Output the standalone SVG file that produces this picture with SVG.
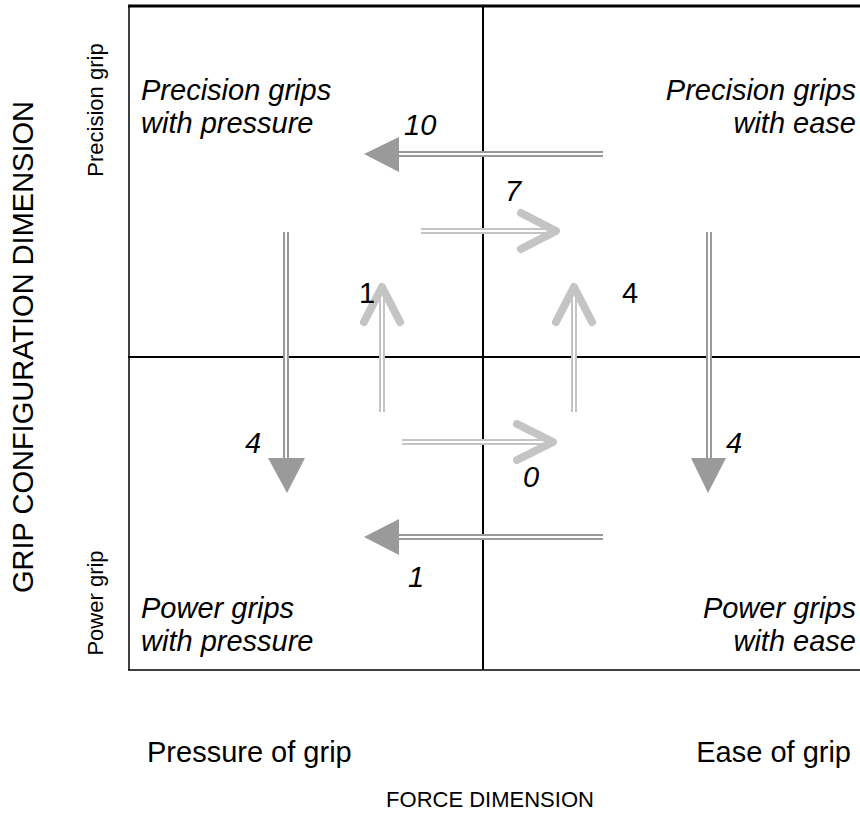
<svg xmlns="http://www.w3.org/2000/svg" width="860" height="835" viewBox="0 0 860 835">
<defs>
<style>
.t{font-family:"Liberation Sans",Arial,sans-serif;font-size:29px;fill:#000}
.s{font-size:22px}
.i{font-style:italic}
.box{stroke:#000;fill:none}
.dk{stroke:#9a9a9a;stroke-width:6;fill:none}
.lt{stroke:#c4c4c4;stroke-width:6;fill:none}
.gap{stroke:#fff;stroke-width:2;fill:none}
.chev{stroke:#c4c4c4;stroke-width:8;fill:none;stroke-linecap:round;stroke-linejoin:round}
.head{fill:#9a9a9a}
</style>
</defs>
<rect width="860" height="835" fill="#fff"/>
<g id="grid">
<line class="box" x1="128" y1="6" x2="860" y2="6" stroke-width="3"/>
<line class="box" x1="129" y1="6" x2="129" y2="670" stroke-width="1.5"/>
<line class="box" x1="128" y1="670" x2="860" y2="670" stroke-width="1.5"/>
<line class="box" x1="483" y1="6" x2="483" y2="670" stroke-width="2"/>
<line class="box" x1="128" y1="357" x2="860" y2="357" stroke-width="2"/>
</g>
<g id="q-tl"><text class="t i" x="141" y="100">Precision grips</text><text class="t i" x="141" y="133">with pressure</text></g>
<g id="q-tr"><text class="t i" x="856" y="100" text-anchor="end">Precision grips</text><text class="t i" x="856" y="133" text-anchor="end">with ease</text></g>
<g id="q-bl"><text class="t i" x="141" y="618">Power grips</text><text class="t i" x="141" y="651">with pressure</text></g>
<g id="q-br"><text class="t i" x="856" y="618" text-anchor="end">Power grips</text><text class="t i" x="856" y="651" text-anchor="end">with ease</text></g>
<g id="axes">
<text class="t" x="147" y="762">Pressure of grip</text>
<text class="t" x="851" y="762" text-anchor="end">Ease of grip</text>
<text class="t s" x="490" y="807" text-anchor="middle">FORCE DIMENSION</text>
<text class="t" transform="translate(33,347) rotate(-90)" text-anchor="middle">GRIP CONFIGURATION DIMENSION</text>
<text class="t s" transform="translate(103,110) rotate(-90)" text-anchor="middle">Precision grip</text>
<text class="t s" transform="translate(103,603) rotate(-90)" text-anchor="middle">Power grip</text>
</g>
<g id="connectors">
<g id="a10"><line class="dk" x1="603" y1="154" x2="398" y2="154"/><line class="gap" x1="603" y1="154" x2="398" y2="154"/><polygon class="head" points="364,154 399,137 399,172"/><text class="t i" x="404" y="135">10</text></g>
<g id="a7"><line class="lt" x1="421" y1="231" x2="552" y2="231"/><line class="gap" x1="421" y1="231" x2="552" y2="231"/><polyline class="chev" points="521,213 556,231 521,249"/><text class="t i" x="505" y="201">7</text></g>
<g id="a1up"><line class="lt" x1="382" y1="412" x2="382" y2="290"/><line class="gap" x1="382" y1="412" x2="382" y2="290"/><polyline class="chev" points="364,322 382,287 400,322"/><text class="t" x="359" y="303">1</text></g>
<g id="a4up"><line class="lt" x1="574" y1="412" x2="574" y2="290"/><line class="gap" x1="574" y1="412" x2="574" y2="290"/><polyline class="chev" points="556,322 574,287 592,322"/><text class="t" x="622" y="303">4</text></g>
<g id="a4l"><line class="dk" x1="286" y1="232" x2="286" y2="460"/><line class="gap" x1="286" y1="232" x2="286" y2="460"/><polygon class="head" points="287,493 268,458 305,458"/><text class="t i" x="245" y="453">4</text></g>
<g id="a4r"><line class="dk" x1="709" y1="232" x2="709" y2="460"/><line class="gap" x1="709" y1="232" x2="709" y2="460"/><polygon class="head" points="708,493 691,458 726,458"/><text class="t i" x="726" y="453">4</text></g>
<g id="a0"><line class="lt" x1="402" y1="442" x2="550" y2="442"/><line class="gap" x1="402" y1="442" x2="550" y2="442"/><polyline class="chev" points="517,424 553,442 517,460"/><text class="t i" x="523" y="487">0</text></g>
<g id="a1l"><line class="dk" x1="603" y1="537" x2="398" y2="537"/><line class="gap" x1="603" y1="537" x2="398" y2="537"/><polygon class="head" points="364,537 399,519 399,555"/><text class="t i" x="408" y="587">1</text></g>
</g>
</svg>
